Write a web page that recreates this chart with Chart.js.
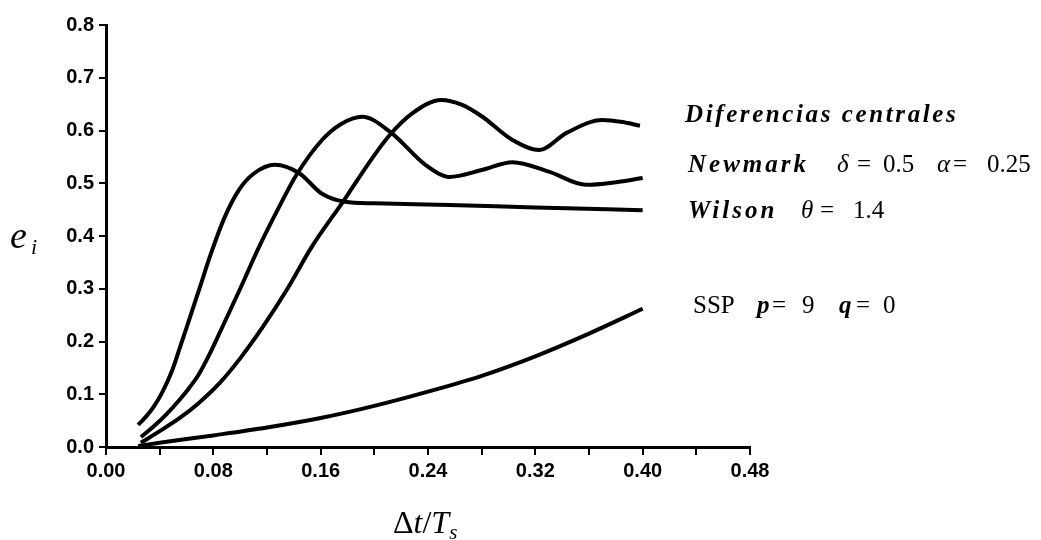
<!DOCTYPE html>
<html>
<head>
<meta charset="utf-8">
<script src="https://cdn.jsdelivr.net/npm/chart.js@4.4.0/dist/chart.umd.min.js"></script>
<style>
  body { margin: 0; background: #fff; }
  canvas { display: block; }
</style>
</head>
<body>
<canvas id="chart" width="1041" height="540"></canvas>
<script>
// values
const xTickLabels = ['0.00', '0.08', '0.16', '0.24', '0.32', '0.40', '0.48'];
const yTickLabels = ['0.0', '0.1', '0.2', '0.3', '0.4', '0.5', '0.6', '0.7', '0.8'];

const difX = [0.026, 0.04, 0.055, 0.069, 0.085, 0.10, 0.117, 0.135, 0.153, 0.178, 0.195, 0.211, 0.228, 0.25, 0.265, 0.28, 0.303, 0.323, 0.343, 0.37, 0.385, 0.398];
const difY = [0.008, 0.03, 0.055, 0.083, 0.122, 0.168, 0.228, 0.299, 0.378, 0.47, 0.535, 0.59, 0.632, 0.658, 0.649, 0.627, 0.582, 0.563, 0.595, 0.62, 0.616, 0.609];

const newmarkX = [0.026, 0.035, 0.045, 0.055, 0.062, 0.069, 0.077, 0.085, 0.10, 0.114, 0.128, 0.142, 0.161, 0.175, 0.191, 0.212, 0.238, 0.256, 0.28, 0.303, 0.33, 0.358, 0.38, 0.40];
const newmarkY = [0.019, 0.038, 0.062, 0.09, 0.112, 0.137, 0.175, 0.218, 0.30, 0.379, 0.45, 0.516, 0.582, 0.612, 0.626, 0.597, 0.535, 0.512, 0.525, 0.540, 0.522, 0.497, 0.502, 0.510];

const wilsonX = [0.024, 0.03, 0.036, 0.042, 0.049, 0.055, 0.06, 0.07, 0.078, 0.088, 0.099, 0.11, 0.126, 0.144, 0.161, 0.178, 0.20, 0.256, 0.32, 0.40];
const wilsonY = [0.042, 0.058, 0.078, 0.104, 0.143, 0.188, 0.226, 0.303, 0.365, 0.433, 0.487, 0.518, 0.535, 0.519, 0.48, 0.465, 0.462, 0.459, 0.454, 0.449];

const sspX = [0.024, 0.04, 0.08, 0.12, 0.16, 0.20, 0.24, 0.28, 0.32, 0.36, 0.40];
const sspY = [0.002, 0.008, 0.022, 0.037, 0.055, 0.078, 0.105, 0.135, 0.172, 0.215, 0.262];

function pts(xs, ys) {
  return xs.map((x, i) => ({ x: x, y: ys[i] }));
}

function curve(label, xs, ys) {
  return {
    label: label,
    data: pts(xs, ys),
    showLine: true,
    borderColor: '#000',
    borderWidth: 4,
    pointRadius: 0,
    cubicInterpolationMode: 'monotone',
    fill: false
  };
}

// draws the text beside the curves and the axis titles
const labelsPlugin = {
  id: 'labels',
  afterDraw(chart) {
    const c = chart.ctx;
    c.save();
    c.fillStyle = '#000';
    c.textBaseline = 'alphabetic';
    c.textAlign = 'left';

    const put = (txt, x, y, font, spacing) => {
      c.font = font;
      c.letterSpacing = spacing || '0px';
      c.fillText(txt, x, y);
    };
    const nameFont = 'bold italic 25px "Liberation Serif"';
    const numFont = '25px "Liberation Serif"';
    const mathFont = 'italic 25px "Liberation Serif"';

    put('Diferencias centrales', 685, 122, nameFont, '2.6px');

    put('Newmark', 688, 172, nameFont, '3px');
    put('\u03b4', 837, 172, mathFont);
    put('=', 857, 172, numFont);
    put('0.5', 883, 172, numFont);
    put('\u03b1', 937, 172, mathFont);
    put('=', 953, 172, numFont);
    put('0.25', 987, 172, numFont);

    put('Wilson', 688, 218, nameFont, '3px');
    put('\u03b8', 801, 218, mathFont);
    put('=', 820, 218, numFont);
    put('1.4', 853, 218, numFont);

    put('SSP', 693, 313, numFont);
    put('p', 757, 313, 'bold italic 25px "Liberation Serif"');
    put('=', 772, 313, numFont);
    put('9', 802, 313, numFont);
    put('q', 839, 313, 'bold italic 25px "Liberation Serif"');
    put('=', 856, 313, numFont);
    put('0', 883, 313, numFont);

    // y title e_i
    put('e', 10, 248, 'italic 38px "Liberation Serif"');
    put('i', 31, 254, 'italic 22px "Liberation Serif"');

    // x title  Δt/T_s
    let x = 393;
    const y = 533;
    const seg = (txt, font, dy) => {
      c.font = font;
      c.letterSpacing = '0px';
      c.fillText(txt, x, y + (dy || 0));
      x += c.measureText(txt).width;
    };
    seg('\u0394', '32px "Liberation Serif"');
    seg('t', 'italic 32px "Liberation Serif"');
    seg('/', '32px "Liberation Serif"');
    seg('T', 'italic 32px "Liberation Serif"');
    seg('s', 'italic 21px "Liberation Serif"', 6);
    c.restore();
  }
};

new Chart(document.getElementById('chart'), {
  type: 'scatter',
  data: {
    datasets: [
      curve('Diferencias centrales', difX, difY),
      curve('Newmark', newmarkX, newmarkY),
      curve('Wilson', wilsonX, wilsonY),
      curve('SSP', sspX, sspY)
    ]
  },
  options: {
    responsive: false,
    animation: false,
    layout: { padding: { left: 0, top: 25, right: 291, bottom: 0 } },
    plugins: { legend: { display: false }, tooltip: { enabled: false } },
    scales: {
      x: {
        type: 'linear',
        min: 0,
        max: 0.48,
        afterFit(s) { s.height = 93; },
        ticks: {
          stepSize: 0.04,
          autoSkip: false,
          maxRotation: 0,
          color: '#000',
          padding: 4,
          font: { family: 'Liberation Sans', size: 20, weight: 'bold' },
          callback: (v, i) => (i % 2 === 0 ? xTickLabels[i / 2] : '')
        },
        grid: { drawOnChartArea: false, tickLength: 8, color: '#000', lineWidth: 2 },
        border: { color: '#000', width: 3 }
      },
      y: {
        min: 0,
        max: 0.8,
        afterFit(s) { s.width = 106; },
        ticks: {
          stepSize: 0.1,
          autoSkip: false,
          color: '#000',
          padding: 5,
          font: { family: 'Liberation Sans', size: 20, weight: 'bold' },
          callback: (v, i) => yTickLabels[i]
        },
        grid: { drawOnChartArea: false, tickLength: 7, color: '#000', lineWidth: 2 },
        border: { color: '#000', width: 3 }
      }
    }
  },
  plugins: [labelsPlugin]
});
</script>
</body>
</html>
